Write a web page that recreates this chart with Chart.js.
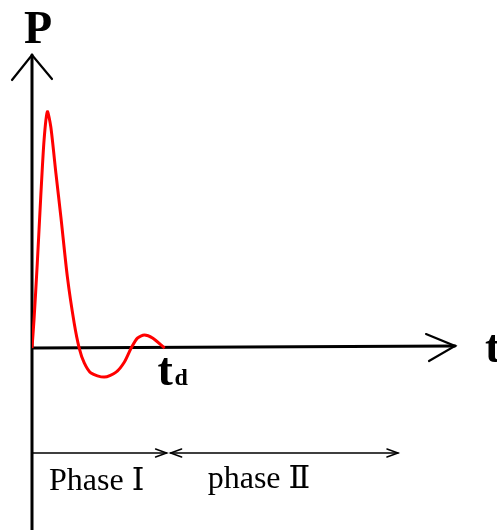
<!DOCTYPE html>
<html>
<head>
<meta charset="utf-8">
<script src="https://cdn.jsdelivr.net/npm/chart.js@4.4.1/dist/chart.umd.min.js"></script>
<style>
html, body { margin: 0; padding: 0; background: #fff; }
</style>
</head>
<body>
<canvas id="pulse" width="497" height="530"></canvas>
<script>
// time, in units of the positive-phase duration td
const times = [0, 0.015, 0.04, 0.066, 0.091, 0.116, 0.142, 0.18, 0.218, 0.267, 0.318, 0.356,
  0.394, 0.445, 0.545, 0.634, 0.697, 0.748, 0.795, 0.848, 0.909, 1.0];
// pressure, normalised to the peak
const pressure = [0, 0.118, 0.36, 0.64, 0.88, 1.0, 0.935, 0.741, 0.554, 0.300, 0.106, 0,
  -0.063, -0.106, -0.123, -0.102, -0.059, 0, 0.042, 0.055, 0.042, 0];
// phase boundaries on the time axis, and their names
const phaseEdges = [0, 1, 2.76];
const phaseNames = ['Phase Ⅰ', 'phase Ⅱ'];
const axisNames = ['t', 'P'];
const tdLabel = ['t', 'd'];

const SERIF = '"Liberation Serif", "DejaVu Serif", serif';

// hand drawn style axes, arrows and labels
const sketchAxes = {
  id: 'sketchAxes',
  beforeDatasetsDraw(chart) {
    const { ctx, chartArea: a, scales: { x, y } } = chart;
    const x0 = x.getPixelForValue(0);
    const y0 = y.getPixelForValue(0);
    ctx.save();
    ctx.strokeStyle = '#000';
    ctx.lineCap = 'round';

    // both axes + open arrows
    ctx.lineWidth = 3;
    ctx.beginPath();
    ctx.moveTo(x0, a.bottom);
    ctx.lineTo(x0, a.top);
    ctx.moveTo(x0, y0);
    ctx.lineTo(a.right, y0 - 2);
    ctx.stroke();
    ctx.lineWidth = 2.2;
    ctx.beginPath();
    ctx.moveTo(x0 - 20, a.top + 25);
    ctx.lineTo(x0, a.top);
    ctx.lineTo(x0 + 20, a.top + 24);
    ctx.moveTo(a.right - 29, y0 - 14);
    ctx.lineTo(a.right, y0 - 2);
    ctx.lineTo(a.right - 26, y0 + 13);
    ctx.stroke();

    // phase arrows under the axis
    const py = y.getPixelForValue(-0.444);
    const e = phaseEdges.map(v => x.getPixelForValue(v));
    ctx.lineWidth = 1.5;
    ctx.beginPath();
    ctx.moveTo(e[0], py);
    ctx.lineTo(e[1] + 2, py);
    ctx.moveTo(e[1] + 6, py);
    ctx.lineTo(e[2], py);
    ctx.stroke();
    const head = (tx, dir) => {
      ctx.beginPath();
      ctx.moveTo(tx - dir * 11, py - 4);
      ctx.lineTo(tx, py);
      ctx.lineTo(tx - dir * 11, py + 4);
      ctx.stroke();
    };
    head(e[1] + 2, 1);
    head(e[1] + 6, -1);
    head(e[2], 1);
    ctx.restore();
  },
  afterDatasetsDraw(chart) {
    const { ctx, chartArea: a, scales: { x, y } } = chart;
    const x0 = x.getPixelForValue(0);
    const y0 = y.getPixelForValue(0);
    const td = x.getPixelForValue(1);
    const py = y.getPixelForValue(-0.444);
    ctx.save();
    ctx.fillStyle = '#000';
    ctx.textBaseline = 'alphabetic';

    ctx.font = 'bold 46px ' + SERIF;
    ctx.textAlign = 'center';
    ctx.fillText(axisNames[1], x0 + 6, a.top - 12);
    ctx.textAlign = 'left';
    ctx.fillText(axisNames[0], a.right + 30, y0 + 14);

    ctx.font = 'bold 46px ' + SERIF;
    ctx.fillText(tdLabel[0], td - 7, y0 + 37);
    ctx.font = 'bold 24px ' + SERIF;
    ctx.fillText(tdLabel[1], td + 10, y0 + 37);

    ctx.font = '32px ' + SERIF;
    ctx.fillText(phaseNames[0], x0 + 17, py + 37);
    ctx.fillText(phaseNames[1], x.getPixelForValue(1.325), py + 35);
    ctx.restore();
  }
};

new Chart(document.getElementById('pulse'), {
  type: 'line',
  data: {
    datasets: [{
      data: times.map((t, i) => ({ x: t, y: pressure[i] })),
      borderColor: '#ff0000',
      borderWidth: 3,
      pointRadius: 0,
      tension: 0.25,
      fill: false
    }]
  },
  options: {
    responsive: false,
    animation: false,
    layout: { padding: { left: 32, right: 42, top: 55, bottom: 0 } },
    plugins: { legend: { display: false }, tooltip: { enabled: false } },
    scales: {
      x: { type: 'linear', display: false, min: 0, max: 3.19 },
      y: { type: 'linear', display: false, min: -0.77, max: 1.24 }
    }
  },
  plugins: [sketchAxes]
});
</script>
</body>
</html>
